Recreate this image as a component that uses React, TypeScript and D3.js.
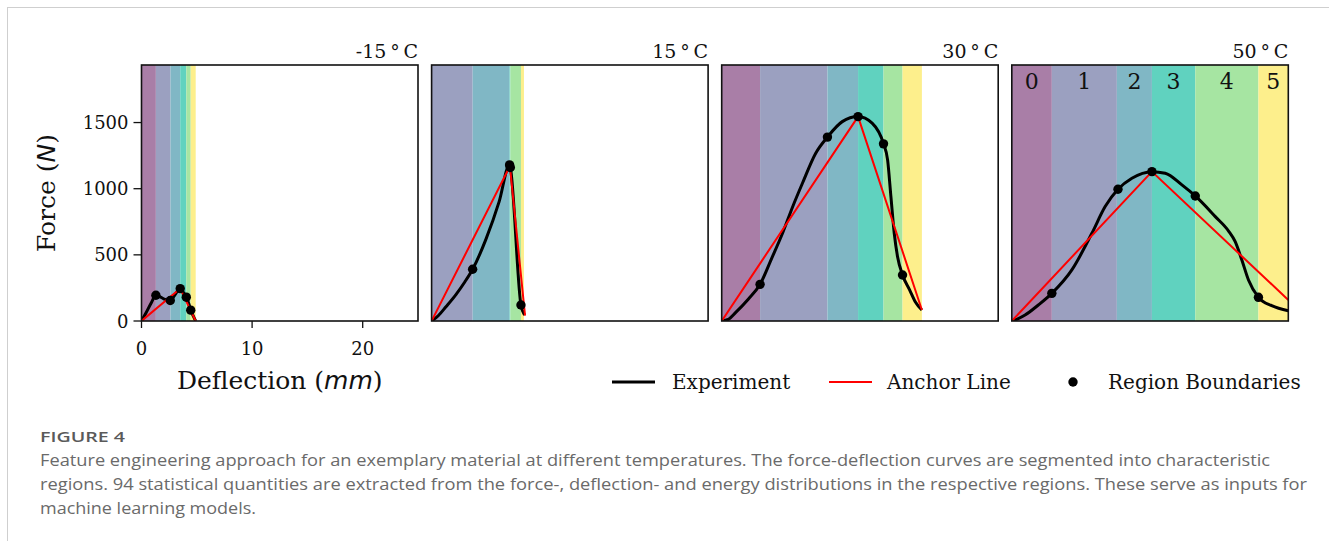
import React from "react";
import * as d3 from "d3";

// Panel titles (test temperature)
const temperatures = ["-15", "15", "30", "50"];

// Experimental force-deflection curves: [deflection mm, force N]
const curveM15: [number, number][] = [
  [0, 0], [0.4, 60], [0.9, 140], [1.3, 195], [1.6, 186], [2.0, 168], [2.6, 155],
  [3.0, 195], [3.5, 245], [3.8, 215], [4.05, 180], [4.3, 125], [4.45, 82], [4.7, 35], [4.9, 0],
];
const curve15: [number, number][] = [
  [0, 0], [0.6, 40], [1.3, 108], [2.2, 200], [3.0, 295], [3.71, 391], [4.9, 615],
  [6.1, 900], [7.05, 1180], [7.12, 1160], [8.08, 121], [8.4, 45],
];
const curve30: [number, number][] = [
  [0, 0], [0.6, 12], [1.27, 65], [2.4, 165], [3.47, 277], [4.5, 470], [5.5, 663],
  [6.4, 860], [7.3, 1041], [8.5, 1268], [9.56, 1390], [10.9, 1507], [12.33, 1545],
  [13.6, 1495], [14.63, 1339], [15.0, 1218], [15.3, 940], [15.6, 663], [15.9, 486],
  [16.35, 348], [17.0, 234], [17.5, 146], [18.1, 83],
];
const curve50: [number, number][] = [
  [0, 0], [0.5, 15], [1.2, 45], [2.4, 121], [3.62, 209], [5.43, 386], [7.24, 663],
  [8.44, 865], [9.6, 996], [10.86, 1079], [12.67, 1129], [13.87, 1117], [15.38, 1029],
  [16.59, 945], [18.4, 789], [19.6, 680], [20.2, 600], [20.8, 461], [21.4, 310],
  [22.3, 179], [23.5, 116], [25, 78],
];

// Region boundary markers on each curve
const markersM15: [number, number][] = [[1.3, 195], [2.6, 155], [3.5, 245], [4.05, 180], [4.45, 82]];
const markers15: [number, number][] = [[3.71, 391], [7.05, 1180], [7.12, 1160], [8.08, 121]];
const markers30: [number, number][] = [[3.47, 277], [9.56, 1390], [12.33, 1545], [14.63, 1339], [16.35, 348]];
const markers50: [number, number][] = [[3.62, 209], [9.6, 996], [12.67, 1129], [16.59, 945], [22.3, 179]];

// Anchor lines: origin -> maximum -> end of test
const anchorM15: [number, number][] = [[0, 0], [3.5, 245], [4.9, 0]];
const anchor15: [number, number][] = [[0, 0], [7.08, 1170], [8.45, 40]];
const anchor30: [number, number][] = [[0, 0], [12.33, 1545], [18.1, 83]];
const anchor50: [number, number][] = [[0, 0], [12.67, 1129], [25, 159]];

// Region edges along the deflection axis (regions 0..5)
const edgesM15 = [0, 1.3, 2.62, 3.5, 4.05, 4.45, 4.9];
const edges15 = [0, 0, 3.71, 7.05, 7.12, 8.08, 8.35];
const edges30 = [0, 3.47, 9.56, 12.33, 14.63, 16.35, 18.1];
const edges50 = [0, 3.62, 9.5, 12.67, 16.59, 22.3, 25];

const regionLabels = ["0", "1", "2", "3", "4", "5"];
const yTicks = [0, 500, 1000, 1500];
const xTicks = [0, 10, 20];

const panels = [
  { curve: curveM15, markers: markersM15, anchor: anchorM15, edges: edgesM15 },
  { curve: curve15, markers: markers15, anchor: anchor15, edges: edges15 },
  { curve: curve30, markers: markers30, anchor: anchor30, edges: edges30 },
  { curve: curve50, markers: markers50, anchor: anchor50, edges: edges50 },
];

const regionColors = ["#a97ea7", "#9ba0c0", "#80b7c5", "#60d2bf", "#a6e5a2", "#fdef8c"];

const W = 1329;
const H = 541;
const TOP = 65;
const BOTTOM = 321;
const LEFT0 = 141.5;
const STEP = 290.1;
const PW = 276.5;
const SERIF = "'DejaVu Serif', serif";
const SANS = "'DejaVu Sans', sans-serif";
const CAPTION = "'Open Sans', 'Noto Sans', sans-serif";

const y = d3.scaleLinear().domain([0, 1935]).range([BOTTOM, TOP]);

function Panel({ idx }: { idx: number }) {
  const p = panels[idx];
  const left = LEFT0 + idx * STEP;
  const x = d3.scaleLinear().domain([0, 25]).range([left, left + PW]);
  const line = d3
    .line<[number, number]>()
    .x((d) => x(d[0]))
    .y((d) => y(d[1]))
    .curve(d3.curveMonotoneX);
  const straight = d3
    .line<[number, number]>()
    .x((d) => x(d[0]))
    .y((d) => y(d[1]));
  const clipId = `clip-${idx}`;
  return (
    <g>
      <defs>
        <clipPath id={clipId}>
          <rect x={left} y={TOP} width={PW} height={BOTTOM - TOP} />
        </clipPath>
      </defs>
      <g clipPath={`url(#${clipId})`}>
        {regionColors.map((c, i) => {
          const x0 = x(p.edges[i]);
          const x1 = x(p.edges[i + 1]);
          return <rect key={i} x={x0} y={TOP} width={Math.max(0, x1 - x0)} height={BOTTOM - TOP} fill={c} />;
        })}
        <path d={line(p.curve) ?? ""} fill="none" stroke="#000" strokeWidth={3} strokeLinejoin="round" />
        <path d={straight(p.anchor) ?? ""} fill="none" stroke="#ff0000" strokeWidth={2} />
        {p.markers.map((m, i) => (
          <circle key={i} cx={x(m[0])} cy={y(m[1])} r={4.7} fill="#000" />
        ))}
      </g>
      {idx === 3 &&
        regionLabels.map((t, i) => (
          <text
            key={t}
            x={(x(p.edges[i]) + x(p.edges[i + 1])) / 2}
            y={89}
            textAnchor="middle"
            fontFamily={SERIF}
            fontSize={22}
            fill="#111"
          >
            {t}
          </text>
        ))}
      <rect x={left} y={TOP} width={PW} height={BOTTOM - TOP} fill="none" stroke="#111" strokeWidth={1.6} />
      <text x={left + PW} y={58} textAnchor="end" fontFamily={SERIF} fontSize={19} fill="#111">
        {temperatures[idx]}
        {"\u2009°\u2009"}C
      </text>
      {idx === 0 && (
        <g>
          {yTicks.map((t) => (
            <g key={t}>
              <line x1={left - 8} x2={left} y1={y(t)} y2={y(t)} stroke="#111" strokeWidth={1.3} />
              <text x={left - 13} y={y(t) + 6.5} textAnchor="end" fontFamily={SERIF} fontSize={18} fill="#111">
                {t}
              </text>
            </g>
          ))}
          {xTicks.map((t) => (
            <g key={t}>
              <line x1={x(t)} x2={x(t)} y1={BOTTOM} y2={BOTTOM + 7} stroke="#111" strokeWidth={1.3} />
              <text x={x(t)} y={355} textAnchor="middle" fontFamily={SERIF} fontSize={18} fill="#111">
                {t}
              </text>
            </g>
          ))}
          <text x={left + PW / 2} y={389} textAnchor="middle" fontFamily={SERIF} fontSize={25} fill="#111">
            Deflection (<tspan fontFamily={SANS} fontStyle="italic">mm</tspan>)
          </text>
          <text
            transform={`translate(55, ${(TOP + BOTTOM) / 2}) rotate(-90)`}
            textAnchor="middle"
            fontFamily={SERIF}
            fontSize={25}
            fill="#111"
          >
            Force (<tspan fontFamily={SANS} fontStyle="italic">N</tspan>)
          </text>
        </g>
      )}
    </g>
  );
}

export default function App() {
  return (
    <div style={{ position: "absolute", left: 0, top: 0 }}>
      <svg width={W} height={H} viewBox={`0 0 ${W} ${H}`} style={{ display: "block", background: "#fff" }}>
        <rect x={7.5} y={7.5} width={W + 10} height={H + 10} fill="none" stroke="#cfcfcf" strokeWidth={1} />
        {panels.map((_, i) => (
          <Panel key={i} idx={i} />
        ))}
        {/* legend */}
        <g fontFamily={SERIF} fontSize={20} fill="#111">
          <line x1={612} x2={655} y1={382} y2={382} stroke="#000" strokeWidth={3} />
          <text x={672} y={389}>Experiment</text>
          <line x1={829} x2={872} y1={382} y2={382} stroke="#ff0000" strokeWidth={2} />
          <text x={887} y={389}>Anchor Line</text>
          <circle cx={1073} cy={382} r={4.7} fill="#000" />
          <text x={1108} y={389}>Region Boundaries</text>
        </g>
        {/* caption */}
        <text x={40} y={442} fontFamily={CAPTION} fontSize={15} fontWeight={600} fill="#5a5a5a" textLength={85} lengthAdjust="spacingAndGlyphs">
          FIGURE 4
        </text>
        <g fontFamily={CAPTION} fontSize={16} fill="#6a6a6a">
          <text x={40} y={466} textLength={1230} lengthAdjust="spacingAndGlyphs">
            Feature engineering approach for an exemplary material at different temperatures. The force-deflection curves are segmented into characteristic
          </text>
          <text x={40} y={490} textLength={1267} lengthAdjust="spacingAndGlyphs">
            regions. 94 statistical quantities are extracted from the force-, deflection- and energy distributions in the respective regions. These serve as inputs for
          </text>
          <text x={40} y={514} textLength={216} lengthAdjust="spacingAndGlyphs">
            machine learning models.
          </text>
        </g>
      </svg>
    </div>
  );
}
